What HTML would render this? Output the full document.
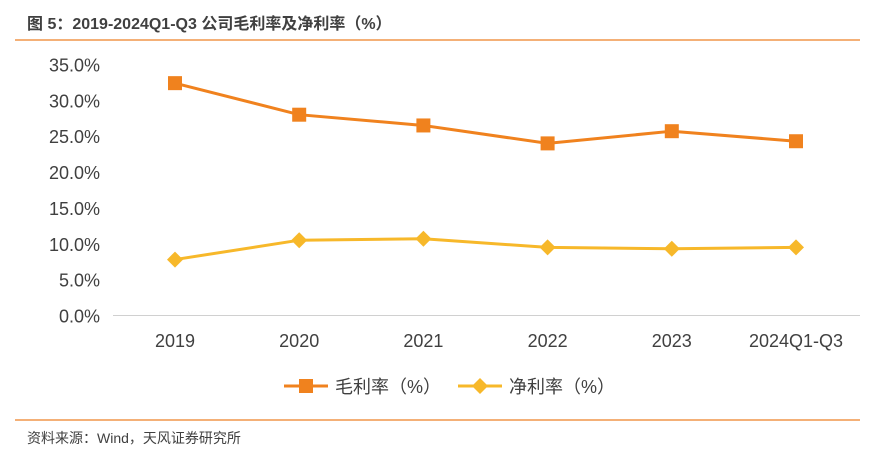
<!DOCTYPE html>
<html><head><meta charset="utf-8"><style>
body{margin:0;width:882px;height:461px;background:#fff;overflow:hidden;font-family:"Liberation Sans","Noto Sans CJK SC",sans-serif;}
</style></head><body>
<svg width="882" height="461" xmlns="http://www.w3.org/2000/svg">
<text x="27" y="29" font-size="16" font-weight="bold" fill="#404040" font-family="Liberation Sans,Noto Sans CJK SC,sans-serif">图 5：2019-2024Q1-Q3 公司毛利率及净利率（%）</text>
<line x1="15" y1="40" x2="860" y2="40" stroke="#F0964A" stroke-width="1.5"/>
<g id="yaxis"></g><g id="xaxis"></g>
<line x1="113" y1="315.5" x2="860" y2="315.5" stroke="#d0d0d0" stroke-width="1"/>
<g id="series"></g>
<g>
<g>
<line x1="284" y1="386" x2="328" y2="386" stroke="#F0821E" stroke-width="3"/>
<rect x="299" y="379" width="14" height="14" fill="#F0821E"/>
<text x="335" y="393" font-size="18" fill="#404040">毛利率（%）</text></g>
<g>
<line x1="458" y1="386" x2="502" y2="386" stroke="#F7B82A" stroke-width="3"/>
<polygon points="480,378 488,386 480,394 472,386" fill="#F7B82A"/>
<text x="509" y="393" font-size="18" fill="#404040">净利率（%）</text></g>
</g>
<line x1="15" y1="420" x2="860" y2="420" stroke="#F0964A" stroke-width="1.5"/>
<text x="27" y="443" font-size="14" fill="#404040">资料来源：Wind，天风证券研究所</text>
</svg>
<script>
const categories=["2019","2020","2021","2022","2023","2024Q1-Q3"];
const grossMargin=[32.4,28.0,26.5,24.0,25.7,24.3];
const netMargin=[7.8,10.5,10.7,9.5,9.3,9.5];
const yTicks=[0,5,10,15,20,25,30,35];
const NS="http://www.w3.org/2000/svg";
function y(v){return 315.5-v*(315.5-64.5)/35;}
function x(i){return 175+i*124.2;}
function mk(tag,attrs,parent){const e=document.createElementNS(NS,tag);for(const k in attrs)e.setAttribute(k,attrs[k]);parent.appendChild(e);return e;}
const ya=document.getElementById('yaxis'),xa=document.getElementById('xaxis'),sg=document.getElementById('series');
yTicks.forEach(t=>{const e=mk('text',{x:100,y:y(t)+7,'text-anchor':'end','font-size':18,fill:'#404040'},ya);e.textContent=t.toFixed(1)+'%';

});
categories.forEach((c,i)=>{const e=mk('text',{x:x(i),y:347,'text-anchor':'middle','font-size':18,fill:'#404040'},xa);e.textContent=c;

});
function line(vals,color,name){const p=mk('polyline',{points:vals.map((v,i)=>x(i)+','+y(v)).join(' '),fill:'none',stroke:color,'stroke-width':3},sg);

}
line(grossMargin,'#F0821E','gross-margin');
line(netMargin,'#F7B82A','net-margin');
grossMargin.forEach((v,i)=>{const r=mk('rect',{x:x(i)-7,y:y(v)-7,width:14,height:14,fill:'#F0821E'},sg);

});
netMargin.forEach((v,i)=>{const cx=x(i),cy=y(v);const d=mk('polygon',{points:`${cx},${cy-8} ${cx+8},${cy} ${cx},${cy+8} ${cx-8},${cy}`,fill:'#F7B82A'},sg);

});
</script>
</body></html>
